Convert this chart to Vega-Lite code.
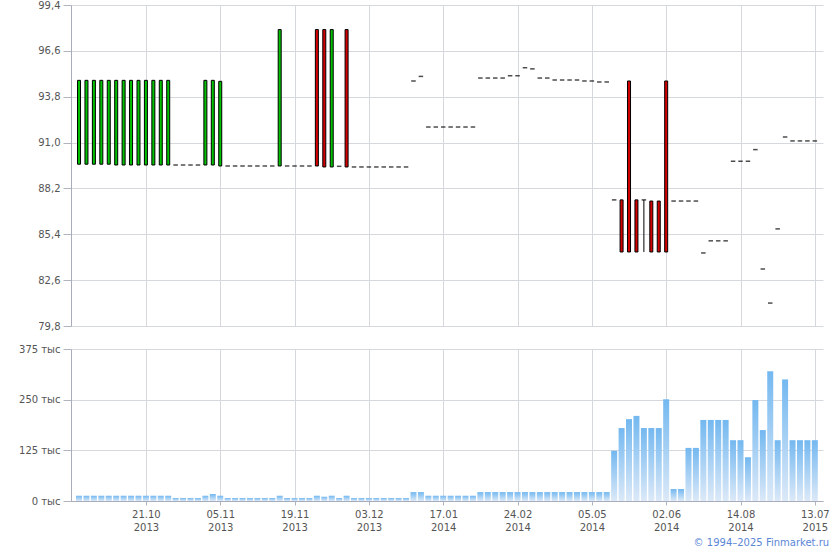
{
"$schema": "https://vega.github.io/schema/vega-lite/v6.json",
"background": "white",
"padding": {"left": 18, "top": 0, "right": 0, "bottom": 0},
"config": {"font": "DejaVu Sans", "view": {"stroke": null}, "axis": {"labelFont": "DejaVu Sans", "labelFontSize": 10, "labelColor": "#555555", "gridColor": "#d5d8dc", "domainColor": "#a9acb9", "tickColor": "#b0b4bc", "title": null}},
"title": {"text": "© 1994–2025 Finmarket.ru", "orient": "bottom", "anchor": "end", "fontSize": 10, "fontWeight": "normal", "color": "#5b86d6", "font": "DejaVu Sans", "offset": 6, "frame": "bounds"},
"datasets": {"d": [
{"i":0,"o":89.68,"h":94.8,"l":89.68,"c":94.8,"v":13},
{"i":1,"o":89.68,"h":94.8,"l":89.68,"c":94.8,"v":13},
{"i":2,"o":89.68,"h":94.8,"l":89.68,"c":94.8,"v":13},
{"i":3,"o":89.68,"h":94.8,"l":89.68,"c":94.8,"v":13},
{"i":4,"o":89.68,"h":94.8,"l":89.68,"c":94.8,"v":13},
{"i":5,"o":89.63,"h":94.8,"l":89.63,"c":94.8,"v":13},
{"i":6,"o":89.63,"h":94.8,"l":89.63,"c":94.8,"v":13},
{"i":7,"o":89.63,"h":94.8,"l":89.63,"c":94.8,"v":13},
{"i":8,"o":89.63,"h":94.8,"l":89.63,"c":94.8,"v":13},
{"i":9,"o":89.63,"h":94.8,"l":89.63,"c":94.8,"v":13},
{"i":10,"o":89.63,"h":94.8,"l":89.63,"c":94.8,"v":13},
{"i":11,"o":89.63,"h":94.8,"l":89.63,"c":94.8,"v":13},
{"i":12,"o":89.63,"h":94.8,"l":89.63,"c":94.8,"v":13},
{"i":13,"o":89.63,"h":89.63,"l":89.63,"c":89.63,"v":7.4},
{"i":14,"o":89.63,"h":89.63,"l":89.63,"c":89.63,"v":7.4},
{"i":15,"o":89.63,"h":89.63,"l":89.63,"c":89.63,"v":7.4},
{"i":16,"o":89.63,"h":89.63,"l":89.63,"c":89.63,"v":7.4},
{"i":17,"o":89.63,"h":94.8,"l":89.63,"c":94.8,"v":13},
{"i":18,"o":89.63,"h":94.8,"l":89.63,"c":94.8,"v":17.3},
{"i":19,"o":89.57,"h":94.74,"l":89.57,"c":94.74,"v":13},
{"i":20,"o":89.57,"h":89.57,"l":89.57,"c":89.57,"v":7.4},
{"i":21,"o":89.57,"h":89.57,"l":89.57,"c":89.57,"v":7.4},
{"i":22,"o":89.57,"h":89.57,"l":89.57,"c":89.57,"v":7.4},
{"i":23,"o":89.57,"h":89.57,"l":89.57,"c":89.57,"v":7.4},
{"i":24,"o":89.57,"h":89.57,"l":89.57,"c":89.57,"v":7.4},
{"i":25,"o":89.57,"h":89.57,"l":89.57,"c":89.57,"v":7.4},
{"i":26,"o":89.57,"h":89.57,"l":89.57,"c":89.57,"v":7.4},
{"i":27,"o":89.57,"h":97.9,"l":89.57,"c":97.9,"v":13},
{"i":28,"o":89.57,"h":89.57,"l":89.57,"c":89.57,"v":7.4},
{"i":29,"o":89.57,"h":89.57,"l":89.57,"c":89.57,"v":7.4},
{"i":30,"o":89.57,"h":89.57,"l":89.57,"c":89.57,"v":7.4},
{"i":31,"o":89.57,"h":89.57,"l":89.57,"c":89.57,"v":7.4},
{"i":32,"o":97.9,"h":97.9,"l":89.57,"c":89.57,"v":13},
{"i":33,"o":97.9,"h":97.9,"l":89.51,"c":89.51,"v":10.7},
{"i":34,"o":89.51,"h":97.9,"l":89.51,"c":97.9,"v":13},
{"i":35,"o":89.55,"h":89.55,"l":89.55,"c":89.55,"v":7.4},
{"i":36,"o":97.9,"h":97.9,"l":89.51,"c":89.51,"v":13},
{"i":37,"o":89.51,"h":89.51,"l":89.51,"c":89.51,"v":7.4},
{"i":38,"o":89.51,"h":89.51,"l":89.51,"c":89.51,"v":7.4},
{"i":39,"o":89.51,"h":89.51,"l":89.51,"c":89.51,"v":7.4},
{"i":40,"o":89.51,"h":89.51,"l":89.51,"c":89.51,"v":7.4},
{"i":41,"o":89.51,"h":89.51,"l":89.51,"c":89.51,"v":7.4},
{"i":42,"o":89.51,"h":89.51,"l":89.51,"c":89.51,"v":7.4},
{"i":43,"o":89.51,"h":89.51,"l":89.51,"c":89.51,"v":7.4},
{"i":44,"o":89.51,"h":89.51,"l":89.51,"c":89.51,"v":7.4},
{"i":45,"o":94.76,"h":94.76,"l":94.76,"c":94.76,"v":22},
{"i":46,"o":95.04,"h":95.04,"l":95.04,"c":95.04,"v":22},
{"i":47,"o":91.95,"h":91.95,"l":91.95,"c":91.95,"v":13},
{"i":48,"o":91.95,"h":91.95,"l":91.95,"c":91.95,"v":13},
{"i":49,"o":91.95,"h":91.95,"l":91.95,"c":91.95,"v":13},
{"i":50,"o":91.95,"h":91.95,"l":91.95,"c":91.95,"v":13},
{"i":51,"o":91.95,"h":91.95,"l":91.95,"c":91.95,"v":13},
{"i":52,"o":91.95,"h":91.95,"l":91.95,"c":91.95,"v":13},
{"i":53,"o":91.95,"h":91.95,"l":91.95,"c":91.95,"v":13},
{"i":54,"o":94.94,"h":94.94,"l":94.94,"c":94.94,"v":22},
{"i":55,"o":94.94,"h":94.94,"l":94.94,"c":94.94,"v":22},
{"i":56,"o":94.94,"h":94.94,"l":94.94,"c":94.94,"v":22},
{"i":57,"o":94.94,"h":94.94,"l":94.94,"c":94.94,"v":22},
{"i":58,"o":95.08,"h":95.08,"l":95.08,"c":95.08,"v":22},
{"i":59,"o":95.08,"h":95.08,"l":95.08,"c":95.08,"v":22},
{"i":60,"o":95.57,"h":95.57,"l":95.57,"c":95.57,"v":22},
{"i":61,"o":95.5,"h":95.5,"l":95.5,"c":95.5,"v":22},
{"i":62,"o":94.94,"h":94.94,"l":94.94,"c":94.94,"v":22},
{"i":63,"o":94.94,"h":94.94,"l":94.94,"c":94.94,"v":22},
{"i":64,"o":94.82,"h":94.82,"l":94.82,"c":94.82,"v":22},
{"i":65,"o":94.82,"h":94.82,"l":94.82,"c":94.82,"v":22},
{"i":66,"o":94.82,"h":94.82,"l":94.82,"c":94.82,"v":22},
{"i":67,"o":94.82,"h":94.82,"l":94.82,"c":94.82,"v":22},
{"i":68,"o":94.76,"h":94.76,"l":94.76,"c":94.76,"v":22},
{"i":69,"o":94.76,"h":94.76,"l":94.76,"c":94.76,"v":22},
{"i":70,"o":94.7,"h":94.7,"l":94.7,"c":94.7,"v":22},
{"i":71,"o":94.7,"h":94.7,"l":94.7,"c":94.7,"v":22},
{"i":72,"o":87.5,"h":87.5,"l":87.5,"c":87.5,"v":124},
{"i":73,"o":87.5,"h":87.5,"l":84.32,"c":84.32,"v":180},
{"i":74,"o":94.76,"h":94.76,"l":84.32,"c":84.32,"v":202},
{"i":75,"o":87.5,"h":87.5,"l":84.32,"c":84.32,"v":210},
{"i":76,"o":87.5,"h":87.5,"l":84.32,"c":87.5,"v":180},
{"i":77,"o":87.43,"h":87.43,"l":84.32,"c":84.32,"v":180},
{"i":78,"o":87.43,"h":87.43,"l":84.32,"c":84.32,"v":180},
{"i":79,"o":94.76,"h":94.76,"l":84.32,"c":84.32,"v":251},
{"i":80,"o":87.43,"h":87.43,"l":87.43,"c":87.43,"v":29.6},
{"i":81,"o":87.43,"h":87.43,"l":87.43,"c":87.43,"v":29.6},
{"i":82,"o":87.43,"h":87.43,"l":87.43,"c":87.43,"v":131},
{"i":83,"o":87.43,"h":87.43,"l":87.43,"c":87.43,"v":131},
{"i":84,"o":84.26,"h":84.26,"l":84.26,"c":84.26,"v":200},
{"i":85,"o":85.0,"h":85.0,"l":85.0,"c":85.0,"v":200},
{"i":86,"o":85.0,"h":85.0,"l":85.0,"c":85.0,"v":200},
{"i":87,"o":85.0,"h":85.0,"l":85.0,"c":85.0,"v":200},
{"i":88,"o":89.86,"h":89.86,"l":89.86,"c":89.86,"v":150},
{"i":89,"o":89.86,"h":89.86,"l":89.86,"c":89.86,"v":150},
{"i":90,"o":89.86,"h":89.86,"l":89.86,"c":89.86,"v":108},
{"i":91,"o":90.57,"h":90.57,"l":90.57,"c":90.57,"v":249},
{"i":92,"o":83.28,"h":83.28,"l":83.28,"c":83.28,"v":175},
{"i":93,"o":81.2,"h":81.2,"l":81.2,"c":81.2,"v":320},
{"i":94,"o":85.73,"h":85.73,"l":85.73,"c":85.73,"v":150},
{"i":95,"o":91.34,"h":91.34,"l":91.34,"c":91.34,"v":300},
{"i":96,"o":91.1,"h":91.1,"l":91.1,"c":91.1,"v":150},
{"i":97,"o":91.1,"h":91.1,"l":91.1,"c":91.1,"v":150},
{"i":98,"o":91.1,"h":91.1,"l":91.1,"c":91.1,"v":150},
{"i":99,"o":91.1,"h":91.1,"l":91.1,"c":91.1,"v":150}
]},
"data": {"name": "d"},
"spacing": 13,
"vconcat": [
{
"width": 752, "height": 321,
"layer": [
{"transform": [{"filter": "datum.l != datum.h"}],
 "mark": {"type": "rule", "color": "black", "strokeWidth": 1},
 "encoding": {
  "x": {"field": "i", "type": "quantitative", "scale": {"domain": [-1.08, 100.1], "nice": false, "zero": false, "padding": 0},
        "axis": {"values": [9,19,29,39,49,59,69,79,89,99], "labels": false, "ticks": false, "domain": false, "grid": true, "minExtent": 0, "maxExtent": 0, "offset": 0}},
  "y": {"field": "l", "type": "quantitative", "scale": {"domain": [79.8, 99.4], "nice": false, "zero": false, "padding": 0},
        "axis": {"values": [79.8,82.6,85.4,88.2,91,93.8,96.6,99.4], "labelExpr": "replace(format(datum.value, '.1f'), '.', ',')", "tickSize": 8, "labelPadding": 3, "grid": true, "domain": true}},
  "y2": {"field": "h"}
 }},
{"transform": [{"filter": "datum.o != datum.c"}],
 "mark": {"type": "bar", "width": 3, "stroke": "black", "strokeWidth": 1},
 "encoding": {
  "x": {"field": "i", "type": "quantitative"},
  "y": {"field": "o", "type": "quantitative"},
  "y2": {"field": "c"},
  "fill": {"condition": {"test": "datum.c > datum.o", "value": "#00c000"}, "value": "#d40000"}
 }},
{"transform": [{"filter": "datum.o == datum.c"}],
 "mark": {"type": "tick", "orient": "horizontal", "size": 4.5, "thickness": 1.5, "color": "black"},
 "encoding": {
  "x": {"field": "i", "type": "quantitative"},
  "y": {"field": "o", "type": "quantitative"}
 }}
]
},
{
"width": 752, "height": 152,
"mark": {"type": "bar", "width": 6, "stroke": null, "fill": {"gradient": "linear", "x1": 0, "y1": 0, "x2": 0, "y2": 1, "stops": [{"offset": 0, "color": "#73b8f0"}, {"offset": 1, "color": "#dce9f8"}]}},
"encoding": {
 "x": {"field": "i", "type": "quantitative", "scale": {"domain": [-1.08, 100.1], "nice": false, "zero": false, "padding": 0},
       "axis": {"values": [9,19,29,39,49,59,69,79,89,99], "labelExpr": "split(['21.10|2013','05.11|2013','19.11|2013','03.12|2013','17.01|2014','24.02|2014','05.05|2014','02.06|2014','14.08|2014','13.07|2015'][(datum.value - 9) / 10], '|')", "tickSize": 4, "labelPadding": 4, "labelLineHeight": 13, "grid": true, "domain": true}},
 "y": {"field": "v", "type": "quantitative", "scale": {"domain": [0, 375], "nice": false, "padding": 0},
       "axis": {"values": [0,125,250,375], "labelExpr": "datum.value + ' тыс'", "tickSize": 8, "labelPadding": 3, "grid": true}}
}
}
]
}
